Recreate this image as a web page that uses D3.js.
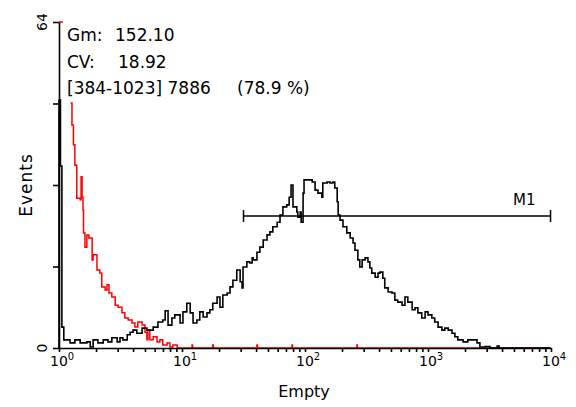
<!DOCTYPE html>
<html>
  <head>
    <meta charset="utf-8" />
    <script src="https://cdn.jsdelivr.net/npm/d3@7"></script>
    <style>
        body { margin: 0; background: #fff; }
        text { font-family: "DejaVu Sans", Verdana, sans-serif; fill: #000; }
        .axis path, .axis line { stroke: #000; stroke-width: 1.6; }
    </style>
  </head>
  <body>
    <svg width="576" height="407"></svg>

    <script type="text/javascript">
        // histogram: [channel (0-1023, 256 per decade), events]
        var blackHist = [
            [0,0],[0,48.7],[3,35.7],[6,4.1],[10,1.6],[23,1.0],[33,1.6],[44,1.0],[58,1.2],[65,0.2],
            [71,1.6],[81,1.0],[92,1.6],[102,1.2],[110,2.0],[121,1.2],[127,2.0],[133,1.6],[142,2.6],
            [148,3.1],[154,3.5],[162,2.9],[173,3.9],[183,3.5],[196,4.1],[206,5.1],[216,5.5],[221,7.3],
            [227,4.5],[235,5.9],[241,6.5],[252,4.9],[258,7.1],[266,8.8],[273,6.9],[279,4.9],[287,5.5],
            [293,7.1],[300,6.1],[308,6.9],[314,7.5],[320,8.8],[329,10.0],[335,8.0],[341,10.4],[350,10.8],
            [356,12.0],[362,13.3],[370,15.3],[377,13.0],[381,11.8],[383,15.9],[391,16.9],[397,16.7],
            [402,17.7],[404,17.3],[412,18.8],[418,19.8],[425,21.2],[433,22.2],[439,22.8],[445,23.8],
            [454,24.7],[460,26.1],[466,27.7],[474,28.1],[479,29.6],[483,32.0],[487,27.7],[495,26.7],
            [497,25.7],[502,26.7],[504,24.7],[508,30.4],[510,33.0],[518,33.0],[527,32.6],[533,31.0],
            [539,30.4],[547,29.6],[549,32.4],[558,32.6],[564,32.4],[570,32.6],[574,31.4],[579,28.7],
            [581,26.1],[585,25.1],[591,23.8],[599,22.6],[606,21.6],[612,20.6],[616,19.2],[622,17.3],
            [626,15.9],[631,17.3],[637,17.7],[643,16.9],[647,15.7],[651,14.7],[658,13.9],[664,14.7],
            [668,14.9],[674,13.7],[678,11.8],[685,11.0],[693,10.8],[699,9.4],[705,9.0],[714,8.4],
            [720,10.0],[726,9.0],[735,7.5],[741,7.9],[747,6.9],[755,5.9],[762,7.1],[768,6.5],[776,5.9],
            [782,5.1],[789,4.1],[797,3.5],[803,3.9],[810,3.5],[818,2.9],[824,2.2],[830,1.6],[841,1.2],
            [851,1.6],[862,1.6],[870,1.0],[876,0.2],[887,0.3],[897,0],[912,0.4],[916,0],[1023,0]
        ];

        var redHist = [
            [0,70],[8,70],[9,null],
            [24,48.1],[27,43.8],[30,39.9],[33,35.9],[37,29.4],[44,29.1],[46,33.6],[48,29.6],[50,27.1],
            [51,22.6],[54,19.8],[58,22.2],[62,21.6],[69,17.3],[71,18.3],[79,15.3],[85,14.7],[89,12.0],
            [96,11.4],[100,12.4],[104,10.8],[110,10.0],[117,8.4],[123,8.0],[131,6.9],[137,5.9],
            [144,5.5],[152,4.9],[158,4.1],[164,5.1],[173,4.5],[179,3.1],[183,1.6],[185,3.5],[189,1.6],
            [196,2.2],[204,1.2],[210,1.6],[216,0.6],[225,1.0],[231,0.2],[237,0.6],[246,0],
            [277,0.6],[278,0],[320,0.6],[321,0],[412,0.6],[413,0],[485,0.6],[486,0],[620,0.6],[621,0],[1023,0]
        ];

        var gate = [384, 1023];
        var gateName = "M1";
        var yTicks = [0, 16, 32, 48, 64];
        var yLabels = [0, 64];
        var decades = [0, 1, 2, 3, 4];
        var statsLines = [
            ["Gm:", "152.10"],
            ["CV:", "18.92"],
            ["[384-1023] 7886", "(78.9 %)"]
        ];
        var xTitle = "Empty";
        var yTitle = "Events";

        function chanToValue(c) { return Math.pow(10, c / 256); }

        var svg = d3.select("svg");

        var x = d3.scaleLog().domain([1, 1e4]).range([59, 551]);
        var y = d3.scaleLinear().domain([0, 64]).range([348, 22]).clamp(true);

        var line = d3.line()
            .defined(function(d) { return d[1] !== null; })
            .x(function(d) { return x(chanToValue(d[0])); })
            .y(function(d) { return y(d[1]); })
            .curve(d3.curveStepAfter);

        // red goes under the axes, so its empty channels hide behind the baseline
        svg.append("path")
            .datum(redHist)
            .attr("d", line)
            .attr("fill", "none")
            .attr("stroke", "#ff0000")
            .attr("stroke-width", 1.5);

        // minor ticks 1..9 per decade
        var xTickVals = [];
        decades.slice(0, 4).forEach(function(d) {
            for (var k = 1; k < 10; k++) xTickVals.push(k * Math.pow(10, d));
        });
        xTickVals.push(1e4);

        svg.append("g")
            .attr("class", "axis")
            .attr("transform", "translate(0," + y(0) + ")")
            .call(d3.axisBottom(x).tickValues(xTickVals).tickSize(4).tickSizeOuter(0).tickFormat(""));

        svg.append("g")
            .attr("class", "axis")
            .attr("transform", "translate(" + x(1) + ",0)")
            .call(d3.axisLeft(y).tickValues(yTicks).tickSize(6).tickSizeOuter(0).tickFormat(""));

        svg.append("path")
            .datum(blackHist)
            .attr("d", line)
            .attr("fill", "none")
            .attr("stroke", "#000")
            .attr("stroke-width", 1.6);

        // decade labels 10^n
        var lab = svg.selectAll("text.xlab")
            .data(decades)
            .enter()
            .append("text")
            .attr("class", "xlab")
            .attr("x", function(d) { return x(Math.pow(10, d)) - 9; })
            .attr("y", 366)
            .style("font-size", "14px");
        lab.append("tspan").text("10");
        lab.append("tspan")
            .attr("dy", -6)
            .style("font-size", "10px")
            .text(function(d) { return d; });

        // y labels, rotated
        svg.selectAll("text.ylab")
            .data(yLabels)
            .enter()
            .append("text")
            .attr("class", "ylab")
            .attr("transform", function(d) { return "translate(47," + y(d) + ") rotate(-90)"; })
            .attr("text-anchor", "middle")
            .style("font-size", "14px")
            .text(function(d) { return d; });

        svg.append("text")
            .attr("transform", "translate(32,185) rotate(-90)")
            .attr("text-anchor", "middle")
            .style("font-size", "17px")
            .style("letter-spacing", "1px")
            .text(yTitle);

        svg.append("text")
            .attr("x", 304)
            .attr("y", 397)
            .attr("text-anchor", "middle")
            .style("font-size", "16px")
            .text(xTitle);

        // marker M1
        var gy = 216;
        var g1 = x(chanToValue(gate[0])), g2 = x(chanToValue(gate[1]));
        var marker = svg.append("g").attr("stroke", "#000").attr("stroke-width", 1.5);
        marker.append("line").attr("x1", g1).attr("x2", g2).attr("y1", gy).attr("y2", gy);
        marker.append("line").attr("x1", g1).attr("x2", g1).attr("y1", gy - 6).attr("y2", gy + 6);
        marker.append("line").attr("x1", g2).attr("x2", g2).attr("y1", gy - 6).attr("y2", gy + 6);
        svg.append("text")
            .attr("x", g2 - 15)
            .attr("y", gy - 11)
            .attr("text-anchor", "end")
            .style("font-size", "15px")
            .text(gateName);

        // stats text
        var valueX = [115, 118, 237];
        statsLines.forEach(function(s, i) {
            var by = 41 + i * 26.5;
            svg.append("text").attr("x", 67).attr("y", by).style("font-size", "17px").text(s[0]);
            svg.append("text").attr("x", valueX[i]).attr("y", by).style("font-size", "17px").text(s[1]);
        });
    </script>
  </body>
</html>
